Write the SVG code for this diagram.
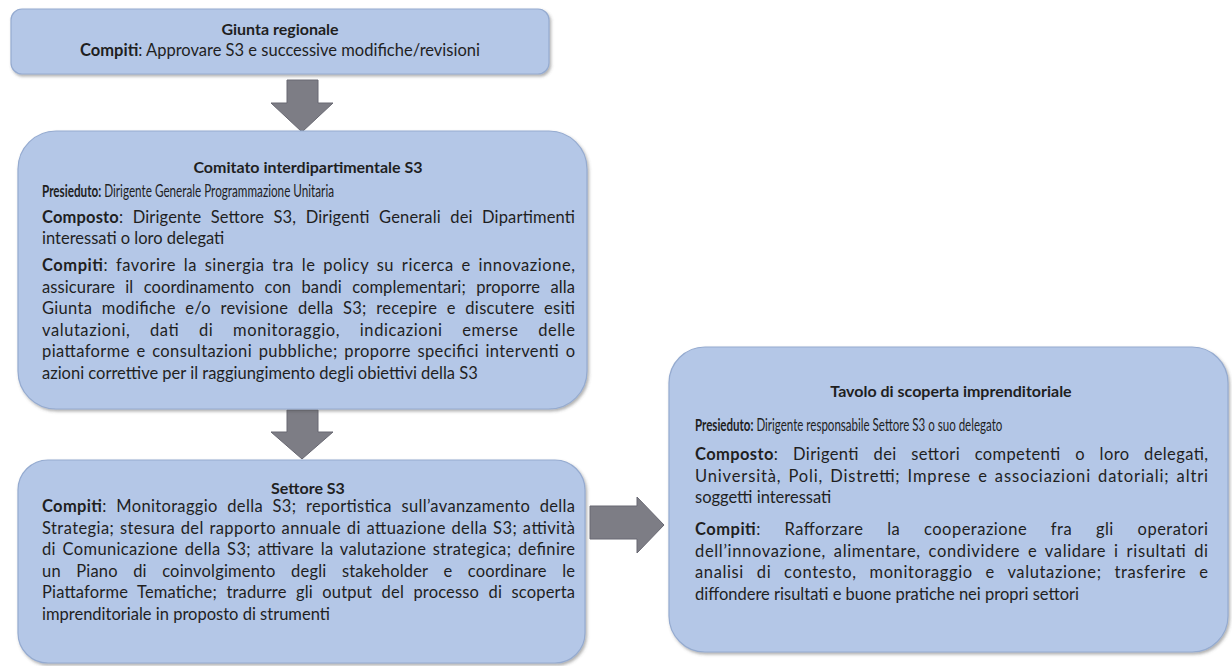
<svg xmlns="http://www.w3.org/2000/svg" width="1232" height="666" viewBox="0 0 1232 666">
  <style>
    .box { fill: #b4c7e7; stroke: #95abd0; stroke-width: 1.2; filter: url(#sh); }
    .t { font-family: Lato, "Liberation Sans", sans-serif; font-size: 16.5px; fill: #1f1f1f; }
    .h { font-size: 16px; }
    .b { font-weight: 700; }
    .c { text-anchor: middle; }
    .arrow { fill: #7d7d85; stroke: #686872; stroke-width: 1; }
  </style>
  <defs>
    <filter id="sh" x="-5%" y="-5%" width="110%" height="115%">
      <feDropShadow dx="1.5" dy="2" stdDeviation="1.5" flood-color="#505050" flood-opacity="0.45"/>
    </filter>
  </defs>
  <rect width="1232" height="666" fill="#ffffff"/>

  <!-- block arrows between the bodies -->
  <g id="connectors">
    <polygon class="arrow" points="287,80 318,80 318,103 333,103 302,132 271,103 287,103"/>
    <polygon class="arrow" points="287,410 318,410 318,432 333,432 302,459 271,432 287,432"/>
    <polygon class="arrow" points="590,506 637,506 637,497 664,525 637,553 637,539 590,539"/>
  </g>

  <g id="giunta">
    <rect class="box" x="11" y="9" width="538" height="65" rx="11"/>
    <text class="t h b c" x="280" y="35">Giunta regionale</text>
    <text class="t c" x="280" y="56"><tspan class="b">Compiti</tspan>: Approvare S3 e successive modifiche/revisioni</text>
  </g>

  <g id="comitato">
    <rect class="box" x="18" y="131" width="569" height="278" rx="38"/>
    <text class="t h b c" x="308" y="173">Comitato interdipartimentale S3</text>
    <!-- condensed line -->
    <text class="t" transform="translate(42,197) scale(0.71,1)" x="0" y="0"><tspan class="b">Presieduto:</tspan> Dirigente Generale Programmazione Unitaria</text>
    <text class="t" x="42" y="223" word-spacing="5" textLength="533" lengthAdjust="spacing"><tspan class="b">Composto</tspan>: Dirigente Settore S3, Dirigenti Generali dei Dipartimenti</text>
    <text class="t" x="42" y="244">interessati o loro delegati</text>
    <text class="t" x="42" y="271" word-spacing="3" textLength="533" lengthAdjust="spacing"><tspan class="b">Compiti</tspan>: favorire la sinergia tra le policy su ricerca e innovazione,</text>
    <text class="t" x="42" y="292.5" word-spacing="6" textLength="533" lengthAdjust="spacing">assicurare il coordinamento con bandi complementari; proporre alla</text>
    <text class="t" x="42" y="314" word-spacing="5" textLength="533" lengthAdjust="spacing">Giunta modifiche e/o revisione della S3; recepire e discutere esiti</text>
    <text class="t" x="42" y="335.5" word-spacing="15" textLength="533" lengthAdjust="spacing">valutazioni, dati di monitoraggio, indicazioni emerse delle</text>
    <text class="t" x="42" y="357" word-spacing="2" textLength="533" lengthAdjust="spacing">piattaforme e consultazioni pubbliche; proporre specifici interventi o</text>
    <text class="t" x="42" y="378.5">azioni correttive per il raggiungimento degli obiettivi della S3</text>
  </g>

  <g id="settore">
    <rect class="box" x="18" y="460" width="567" height="203" rx="30"/>
    <text class="t h b c" x="308" y="494">Settore S3</text>
    <text class="t" x="42" y="512" word-spacing="5" textLength="533" lengthAdjust="spacing"><tspan class="b">Compiti</tspan>: Monitoraggio della S3; reportistica sull’avanzamento della</text>
    <text class="t" x="42" y="533.5" word-spacing="1" textLength="533" lengthAdjust="spacing">Strategia; stesura del rapporto annuale di attuazione della S3; attività</text>
    <text class="t" x="42" y="555" word-spacing="2" textLength="533" lengthAdjust="spacing">di Comunicazione della S3; attivare la valutazione strategica; definire</text>
    <text class="t" x="42" y="576.5" word-spacing="11" textLength="533" lengthAdjust="spacing">un Piano di coinvolgimento degli stakeholder e coordinare le</text>
    <text class="t" x="42" y="598" word-spacing="5" textLength="533" lengthAdjust="spacing">Piattaforme Tematiche; tradurre gli output del processo di scoperta</text>
    <text class="t" x="42" y="619.5">imprenditoriale in proposto di strumenti</text>
  </g>

  <g id="tavolo">
    <rect class="box" x="669" y="347" width="559" height="305" rx="36"/>
    <text class="t h b c" x="951" y="397">Tavolo di scoperta imprenditoriale</text>
    <!-- condensed line -->
    <text class="t" transform="translate(695,431) scale(0.70,1)" x="0" y="0"><tspan class="b">Presieduto:</tspan> Dirigente responsabile Settore S3 o suo delegato</text>
    <text class="t" x="695" y="460" word-spacing="10" textLength="513" lengthAdjust="spacing"><tspan class="b">Composto</tspan>: Dirigenti dei settori competenti o loro delegati,</text>
    <text class="t" x="695" y="481.5" word-spacing="2" textLength="513" lengthAdjust="spacing">Università, Poli, Distretti; Imprese e associazioni datoriali; altri</text>
    <text class="t" x="695" y="503">soggetti interessati</text>
    <text class="t" x="695" y="535" word-spacing="19" textLength="513" lengthAdjust="spacing"><tspan class="b">Compiti</tspan>: Rafforzare la cooperazione fra gli operatori</text>
    <text class="t" x="695" y="556.5" word-spacing="3" textLength="513" lengthAdjust="spacing">dell’innovazione, alimentare, condividere e validare i risultati di</text>
    <text class="t" x="695" y="578" word-spacing="8" textLength="513" lengthAdjust="spacing">analisi di contesto, monitoraggio e valutazione; trasferire e</text>
    <text class="t" x="695" y="599.5">diffondere risultati e buone pratiche nei propri settori</text>
  </g>
</svg>
